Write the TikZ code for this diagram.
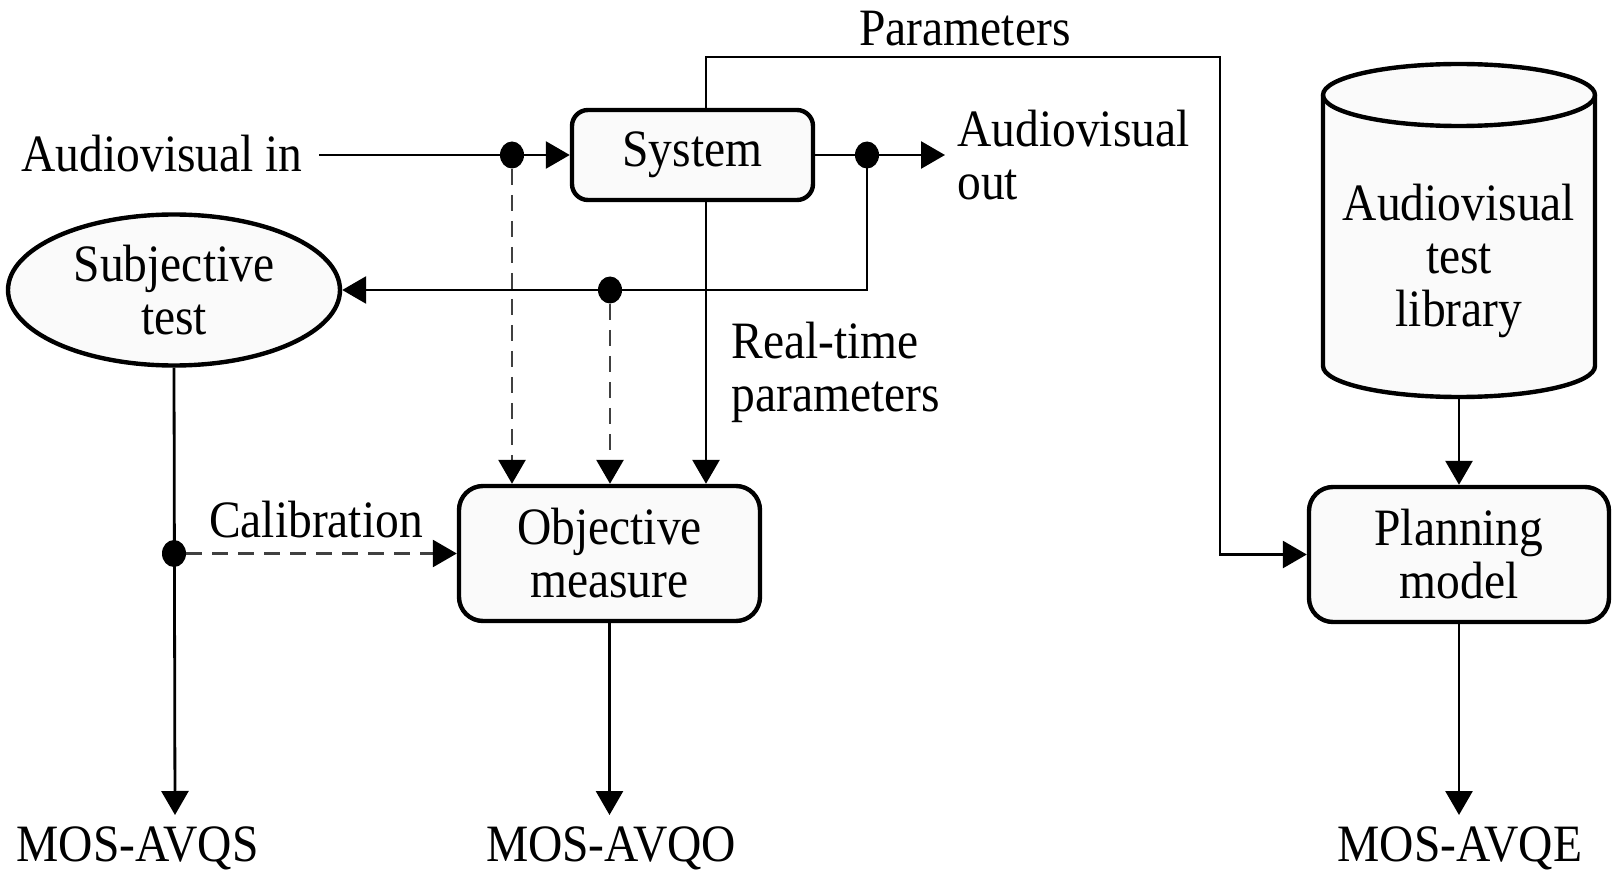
\documentclass[tikz,border=0pt]{standalone}
\usepackage{fontspec}
\setmainfont{Liberation Serif}[FakeStretch=0.905]
\usetikzlibrary{arrows.meta,shapes.geometric}

\begin{document}
\begin{tikzpicture}[x=0.5pt,y=-0.5pt,
  every node/.style={font=\fontsize{26.25pt}{26.5pt}\selectfont, inner sep=0pt},
  box/.style={draw, line width=2.2pt, rounded corners=8pt, fill=black!2, align=center},
  wire/.style={line width=1.4pt},
  arr/.style={wire, -{Triangle[length=12pt,width=13.5pt]}},
  darr/.style={line width=1.4pt, draw=black!75, dash pattern=on 8pt off 5pt,
    -{Triangle[length=12pt,width=13.5pt,color=black]}},
  jdot/.style={ellipse, fill, minimum width=12pt, minimum height=13.5pt, inner sep=0pt}
]
\useasboundingbox (0,0) rectangle (1614,872);

% blocks
\node[box, minimum width=120.5pt, minimum height=45pt] (sys) at (692.5,155) {System};
\node[box, rounded corners=12pt, minimum width=150.5pt, minimum height=67.5pt] (obj) at (609.5,553.5) {Objective\\measure};
\node[box, rounded corners=12pt, minimum width=150pt, minimum height=67.5pt] (plan) at (1459,554.5) {Planning\\model};
\node[draw, ellipse, line width=2.2pt, fill=black!2, minimum width=166pt, minimum height=75.5pt, align=center] (subj) at (174,290) {Subjective\\test};

% test library drum
\path[draw, line width=2.2pt, fill=black!2] (1323,95) -- (1323,366)
  arc[start angle=180, end angle=360, x radius=68pt, y radius=15.5pt] -- (1595,95)
  arc[start angle=0, end angle=180, x radius=68pt, y radius=15.5pt] -- cycle;
\draw[line width=2.2pt] (1323,95) arc[start angle=180, end angle=360, x radius=68pt, y radius=15.5pt];
\node[align=center] (lib) at (1459,261) {Audiovisual\\test\\library};
\coordinate (libbase) at (1459,397);

% labels
\node[anchor=base east] (ain) at (303,172) {Audiovisual in};
\node[anchor=west, align=left] (aoutl) at (957,155) {Audiovisual\\out};
\node[anchor=base] (plbl) at (965,46) {Parameters};
\node[anchor=west, align=left] (rtl) at (731,372) {Real-time\\parameters};
\node[anchor=base] (cal) at (316,537) {Calibration};
\node[anchor=base] (mosS) at (137.5,861) {MOS-AVQS};
\node[anchor=base] (mosO) at (611,861) {MOS-AVQO};
\node[anchor=base] (mosE) at (1460,861) {MOS-AVQE};

% junctions and free ends
\node[jdot] (d1) at (512,155) {};
\node[jdot] (d2) at (867,155) {};
\node[jdot] (d3) at (610,290) {};
\node[jdot] (d4) at (subj.south |- obj.west) {};
\coordinate (aout) at (945,155);
\coordinate (pc) at (1220,57);
\coordinate (sq) at (175,815);

% connectors
\draw[arr] ([xshift=8pt]ain.east |- sys.west) -- (sys.west);
\draw[arr] (sys.east) -- (aout);
\draw[arr] (d2.center) |- (subj.east);
\draw[darr] (d1) -- (d1 |- obj.north);
\draw[darr] (d3) -- (d3 |- obj.north);
\draw[arr] ([xshift=6.75pt]sys.south) -- ([xshift=6.75pt]sys.south |- obj.north);
\draw[arr] ([xshift=6.75pt]sys.north) |- (pc) |- (plan.west);
\draw[arr] (subj.south) -- (sq);
\draw[darr] (d4) -- (obj.west);
\draw[arr] (obj.south) -- (obj.south |- sq);
\draw[arr] (libbase) -- (plan.north);
\draw[arr] (plan.south) -- (plan.south |- sq);
\end{tikzpicture}
\end{document}
